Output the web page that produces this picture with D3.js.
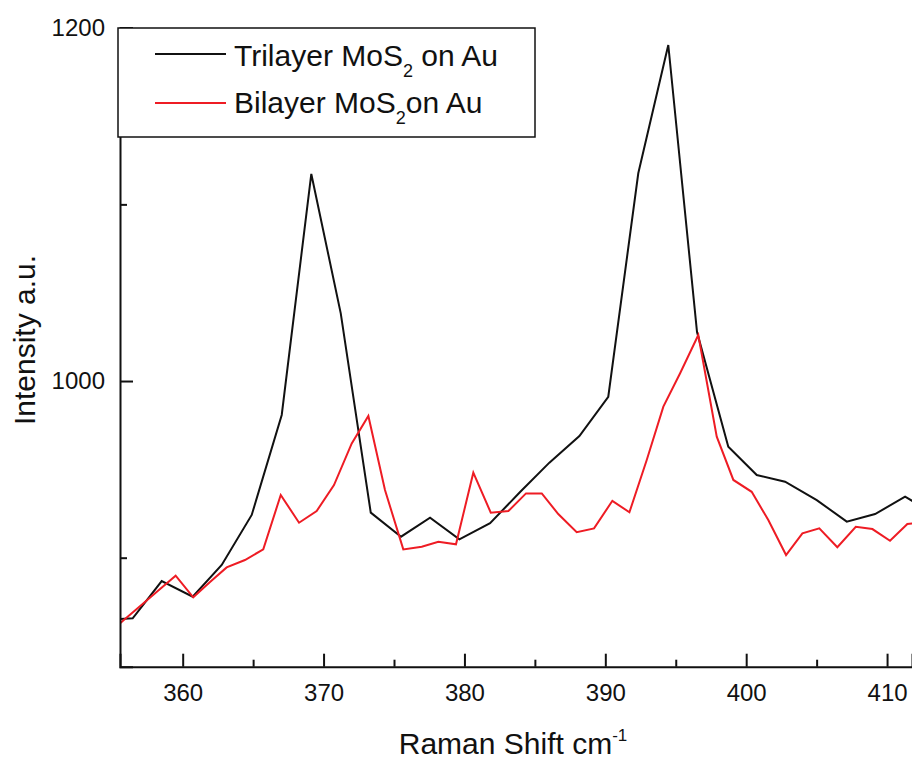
<!DOCTYPE html>
<html>
<head>
<meta charset="utf-8">
<script src="https://cdn.jsdelivr.net/npm/d3@7"></script>
<style>
  body { margin: 0; background: #fff; }
  text { font-family: "Liberation Sans", Arial, sans-serif; }
</style>
</head>
<body>
<script>
// Raman shift (cm-1) and intensity for each series
var triShift = [354.34, 356.45, 358.51, 360.71, 362.77, 364.90, 367.03, 369.13, 371.22, 373.35,
  375.50, 377.56, 379.64, 381.82, 383.95, 386.03, 388.16, 390.21, 392.34, 394.47,
  396.51, 398.73, 400.75, 402.76, 405.01, 407.14, 409.15, 411.28, 413.41];
var triIntensity = [864.7, 865.7, 886.8, 877.9, 895.9, 924.2, 980.8, 1117.2, 1038.3, 925.5,
  911.9, 922.6, 910.4, 919.5, 937.2, 953.8, 968.9, 991.1, 1117.6, 1190.2,
  1027.7, 962.8, 946.8, 943.0, 932.6, 920.4, 924.7, 934.5, 924.7];

var biShift = [354.59, 355.82, 357.05, 358.27, 359.50, 360.75, 361.94, 363.12, 364.42, 365.72,
  366.96, 368.26, 369.51, 370.74, 372.00, 373.18, 374.36, 375.66, 376.97, 378.15,
  379.40, 380.63, 381.87, 383.12, 384.37, 385.49, 386.66, 387.97, 389.20, 390.50,
  391.71, 392.94, 394.12, 395.31, 396.60, 397.91, 399.09, 400.39, 401.57, 402.83,
  403.99, 405.19, 406.47, 407.78, 408.96, 410.21, 411.44, 412.70];
var biIntensity = [856.3, 864.7, 873.1, 881.4, 889.8, 877.6, 886.2, 894.5, 898.7, 904.7,
  935.5, 919.8, 926.4, 941.1, 964.7, 980.2, 938.3, 904.7, 906.2, 909.0,
  907.6, 948.1, 925.5, 926.4, 936.4, 936.4, 924.7, 914.4, 916.6, 932.2,
  925.7, 955.3, 985.5, 1004.4, 1026.0, 968.5, 944.0, 937.3, 921.3, 901.5,
  913.8, 916.6, 905.9, 917.5, 916.2, 909.6, 919.1, 920.2];

var xMajor = [360, 370, 380, 390, 400, 410];
var xMinor = [365, 375, 385, 395, 405];
var yMajor = [1000, 1200];
var yMinor = [900, 1100];

(function() {
  var w = 912;
  var h = 759;
  var plotLeft = 120, plotRight = 912, plotTop = 27.7, plotBottom = 666.7;

  var svg = d3.select("body")
    .append("svg")
    .attr("width", w)
    .attr("height", h);

  var x = d3.scaleLinear().domain([355.55, 411.77]).range([plotLeft, plotRight]);
  var y = d3.scaleLinear().domain([838.3, 1200]).range([plotBottom, plotTop]);

  // keep the lines inside the plot box
  svg.append("clipPath")
    .attr("id", "plotclip")
    .append("rect")
    .attr("x", plotLeft)
    .attr("y", 0)
    .attr("width", plotRight - plotLeft + 10)
    .attr("height", plotBottom);

  var line = d3.line()
    .x(function(d) { return x(d[0]); })
    .y(function(d) { return y(d[1]); });

  var tri = d3.zip(triShift, triIntensity);
  var bi = d3.zip(biShift, biIntensity);

  svg.append("path")
    .datum(tri)
    .attr("clip-path", "url(#plotclip)")
    .attr("d", line)
    .attr("fill", "none")
    .attr("stroke", "#111")
    .attr("stroke-width", 2);

  svg.append("path")
    .datum(bi)
    .attr("clip-path", "url(#plotclip)")
    .attr("d", line)
    .attr("fill", "none")
    .attr("stroke", "#ee1c24")
    .attr("stroke-width", 2);

  // x axis, ticks pointing inward
  svg.append("g")
    .attr("transform", "translate(0," + plotBottom + ")")
    .call(d3.axisBottom(x).tickValues(xMajor).tickSize(-13).tickPadding(17).tickFormat(d3.format("d")));
  svg.append("g")
    .attr("transform", "translate(0," + plotBottom + ")")
    .call(d3.axisBottom(x).tickValues(xMinor).tickSize(-7).tickFormat(""))
    .select(".domain").remove();

  // y axis
  svg.append("g")
    .attr("transform", "translate(" + plotLeft + ",0)")
    .call(d3.axisLeft(y).tickValues(yMajor).tickSize(-13).tickPadding(15).tickFormat(d3.format("d")));
  svg.append("g")
    .attr("transform", "translate(" + plotLeft + ",0)")
    .call(d3.axisLeft(y).tickValues(yMinor).tickSize(-7).tickFormat(""))
    .select(".domain").remove();

  svg.selectAll(".tick line").attr("stroke", "#111").attr("stroke-width", 2);
  svg.selectAll(".domain").attr("stroke", "#111").attr("stroke-width", 2);
  svg.selectAll(".tick text")
    .attr("fill", "#111")
    .attr("font-size", "24px")
    .attr("font-family", "Liberation Sans, Arial, sans-serif");

  // axis titles
  var xt = svg.append("text")
    .attr("x", 513)
    .attr("y", 754)
    .attr("text-anchor", "middle")
    .attr("font-size", "30px")
    .attr("fill", "#111")
    .text("Raman Shift cm");
  xt.append("tspan")
    .attr("dy", -13)
    .attr("font-size", "17px")
    .text("-1");

  svg.append("text")
    .attr("transform", "translate(35,340) rotate(-90)")
    .attr("text-anchor", "middle")
    .attr("font-size", "30px")
    .attr("fill", "#111")
    .text("Intensity a.u.");

  // legend
  svg.append("rect")
    .attr("x", 118)
    .attr("y", 28)
    .attr("width", 417)
    .attr("height", 109)
    .attr("fill", "#fff")
    .attr("stroke", "#111")
    .attr("stroke-width", 1.5);

  var legendItems = [
    { name: "Trilayer MoS", tail: " on Au", color: "#111", ly: 54, ty: 66 },
    { name: "Bilayer MoS", tail: "on Au", color: "#ee1c24", ly: 103, ty: 113 }
  ];

  legendItems.forEach(function(d) {
    svg.append("line")
      .attr("x1", 155).attr("x2", 226)
      .attr("y1", d.ly).attr("y2", d.ly)
      .attr("stroke", d.color)
      .attr("stroke-width", 2);
    var t = svg.append("text")
      .attr("x", 234)
      .attr("y", d.ty)
      .attr("font-size", "30px")
      .attr("fill", "#111")
      .text(d.name);
    t.append("tspan").attr("dy", 11).attr("font-size", "18px").text("2");
    t.append("tspan").attr("dy", -11).text(d.tail);
  });
})();
</script>
</body>
</html>
